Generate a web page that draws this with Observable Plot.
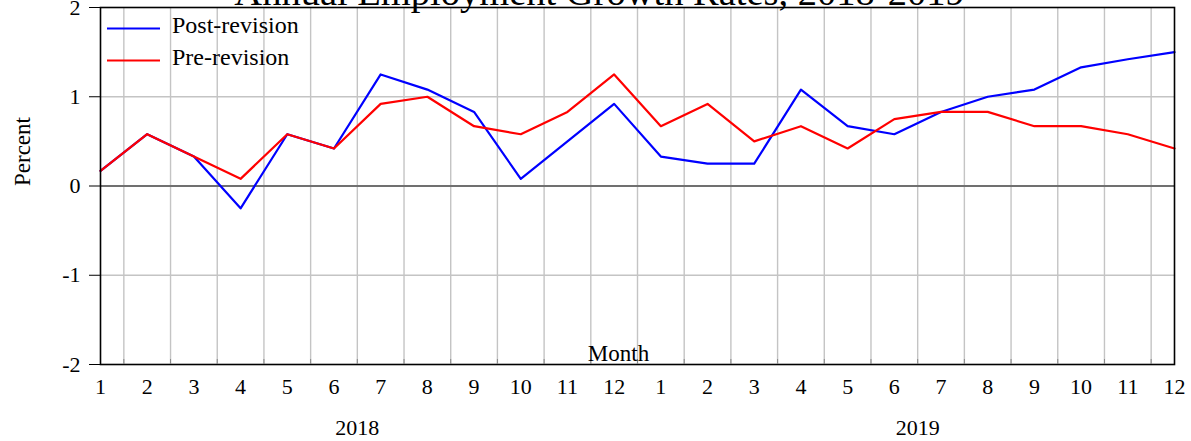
<!DOCTYPE html>
<html>
<head>
<meta charset="utf-8">
<script src="https://cdn.jsdelivr.net/npm/d3@7"></script>
<script src="https://cdn.jsdelivr.net/npm/@observablehq/plot@0.6"></script>
<style>
  html, body { margin: 0; padding: 0; background: white; }
  #chart { width: 1191px; height: 441px; overflow: hidden; }
</style>
</head>
<body>
<div id="chart"></div>
<script>
const title = "Annual Employment Growth Rates, 2018-2019";
const years = ["2018", "2019"];
const months = [1,2,3,4,5,6,7,8,9,10,11,12,1,2,3,4,5,6,7,8,9,10,11,12];
const yearOf = ["2018","2018","2018","2018","2018","2018","2018","2018","2018","2018","2018","2018",
                "2019","2019","2019","2019","2019","2019","2019","2019","2019","2019","2019","2019"];
const postRevision = [0.17,0.58,0.33,-0.25,0.58,0.42,1.25,1.08,0.83,0.08,0.5,0.92,
                      0.33,0.25,0.25,1.08,0.67,0.58,0.83,1.0,1.08,1.33,1.42,1.5];
const preRevision  = [0.17,0.58,0.33,0.08,0.58,0.42,0.92,1.0,0.67,0.58,0.83,1.25,
                      0.67,0.92,0.5,0.67,0.42,0.75,0.83,0.83,0.67,0.67,0.58,0.42];
const yTicks = [-2,-1,0,1,2];
const seriesNames = ["Post-revision", "Pre-revision"];
const seriesColors = ["#0000ff", "#ff0000"];

const rows = months.map((m, i) => ({i, month: m, year: yearOf[i], post: postRevision[i], pre: preRevision[i]}));
const idx = rows.map(d => d.i);
const mids = idx.slice(0, -1).map(i => i + 0.5);
const yearRows = years.map(y => ({year: y, x: d3.mean(rows.filter(r => r.year === y), r => r.i)}));

const font = "'Liberation Serif', 'Times New Roman', Times, serif";

const chart = Plot.plot({
  width: 1191,
  height: 441,
  marginLeft: 100,
  marginRight: 17,
  marginTop: 7,
  marginBottom: 77,
  style: {fontFamily: font, fontSize: "22px", background: "white", color: "black", overflow: "visible"},
  x: {domain: [0, months.length - 1]},
  y: {domain: [-2, 2]},
  marks: [
    Plot.gridX(mids, {stroke: "#c4c4c4", strokeOpacity: 1, strokeWidth: 1.4}),
    Plot.gridY([-1, 1], {stroke: "#c4c4c4", strokeOpacity: 1, strokeWidth: 1.4}),
    Plot.ruleY([0], {stroke: "#707070", strokeWidth: 2}),
    Plot.line(rows, {x: "i", y: "post", stroke: seriesColors[0], strokeWidth: 2.2}),
    Plot.line(rows, {x: "i", y: "pre", stroke: seriesColors[1], strokeWidth: 2.2}),
    Plot.frame({stroke: "black", strokeWidth: 1.6}),
    Plot.axisY({ticks: yTicks, tickFormat: d => `${d}`, tickSize: 11, tickPadding: 9, label: null, fontSize: 22}),
    Plot.axisX({ticks: idx, tickFormat: i => months[i], tickSize: 0, tickPadding: 14, label: null, fontSize: 22}),
    Plot.axisX({ticks: mids, tickFormat: () => "", tickSize: -5, label: null, stroke: "#888"}),
    Plot.text(yearRows, {x: "x", text: "year", frameAnchor: "bottom", dy: 63, lineAnchor: "middle", fontSize: 22}),
    Plot.text(["Month"], {frameAnchor: "bottom", dx: -19, dy: -4, lineAnchor: "bottom", fontSize: 23}),
    Plot.text(["Percent"], {frameAnchor: "left", dx: -78, rotate: -90, fontSize: 23}),
    Plot.text([title], {frameAnchor: "top", dx: -38, dy: -3, lineAnchor: "bottom", fontSize: 38.5})
  ]
});

// Legend inside the plot frame, top-left
const svg = d3.select(chart);
const lg = svg.append("g").attr("font-family", font).attr("font-size", 24).attr("text-anchor", "start");
seriesNames.forEach((name, k) => {
  const y = 28.5 + k * 32;
  lg.append("line").attr("x1", 107).attr("x2", 160).attr("y1", y).attr("y2", y)
    .attr("stroke", seriesColors[k]).attr("stroke-width", 2.2);
  lg.append("text").attr("x", 172).attr("y", y + 4.5).attr("fill", "black")
    .attr("text-anchor", "start").style("font-size", "24px").text(name);
});

document.getElementById("chart").appendChild(chart);
</script>
</body>
</html>
